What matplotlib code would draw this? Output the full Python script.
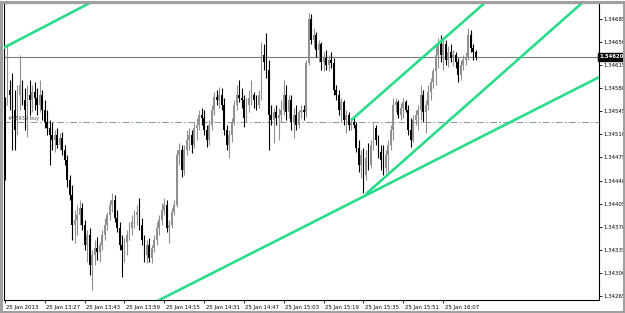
import numpy as np
import matplotlib
matplotlib.use("Agg")
import matplotlib.pyplot as plt
from matplotlib import transforms
from matplotlib.patches import Rectangle

# M1 bars, 25 Jan 2013, first bar 13:11
bar_open = [
    1.34479, 1.34555, 1.34570, 1.34563, 1.34540, 1.34509, 1.34563, 1.34578, 1.34555, 1.34540,
    1.34563, 1.34555, 1.34567, 1.34558, 1.34547, 1.34563, 1.34540, 1.34522, 1.34512, 1.34502,
    1.34494, 1.34502, 1.34487, 1.34497, 1.34479, 1.34464, 1.34433, 1.34411, 1.34365, 1.34373,
    1.34380, 1.34391, 1.34365, 1.34335, 1.34350, 1.34304, 1.34319, 1.34330, 1.34324, 1.34335,
    1.34350, 1.34365, 1.34380, 1.34395, 1.34403, 1.34376, 1.34360, 1.34335, 1.34327, 1.34339,
    1.34350, 1.34360, 1.34370, 1.34380, 1.34385, 1.34365, 1.34342, 1.34319, 1.34335, 1.34315,
    1.34330, 1.34342, 1.34360, 1.34373, 1.34388, 1.34395, 1.34360, 1.34365, 1.34385, 1.34395,
    1.34471, 1.34479, 1.34449, 1.34479, 1.34494, 1.34502, 1.34487, 1.34512, 1.34517, 1.34532,
    1.34528, 1.34509, 1.34494, 1.34517, 1.34540, 1.34560, 1.34555, 1.34563, 1.34547, 1.34509,
    1.34487, 1.34502, 1.34522, 1.34547, 1.34563, 1.34558, 1.34555, 1.34528, 1.34547, 1.34558,
    1.34563, 1.34555, 1.34547, 1.34563, 1.34623, 1.34613, 1.34601, 1.34532, 1.34525, 1.34537,
    1.34528, 1.34532, 1.34540, 1.34563, 1.34537, 1.34555, 1.34522, 1.34532, 1.34517, 1.34537,
    1.34540, 1.34537, 1.34611, 1.34677, 1.34646, 1.34654, 1.34631, 1.34639, 1.34613, 1.34619,
    1.34608, 1.34616, 1.34611, 1.34570, 1.34563, 1.34540, 1.34552, 1.34525, 1.34532, 1.34517,
    1.34522, 1.34517, 1.34482, 1.34456, 1.34471, 1.34441, 1.34467, 1.34456, 1.34487, 1.34512,
    1.34494, 1.34476, 1.34464, 1.34452, 1.34471, 1.34487, 1.34509, 1.34547, 1.34552, 1.34532,
    1.34543, 1.34552, 1.34540, 1.34509, 1.34494, 1.34525, 1.34532, 1.34540, 1.34563, 1.34537,
    1.34547, 1.34567, 1.34582, 1.34598, 1.34623, 1.34639, 1.34623, 1.34639, 1.34616, 1.34628,
    1.34619, 1.34623, 1.34613, 1.34593, 1.34608, 1.34616, 1.34619, 1.34654, 1.34634, 1.34628,
]
bar_high = [
    1.34560, 1.34639, 1.34585, 1.34596, 1.34570, 1.34578, 1.34623, 1.34585, 1.34573, 1.34578,
    1.34585, 1.34578, 1.34582, 1.34573, 1.34585, 1.34570, 1.34555, 1.34540, 1.34525, 1.34522,
    1.34509, 1.34512, 1.34505, 1.34506, 1.34487, 1.34471, 1.34441, 1.34426, 1.34388, 1.34395,
    1.34403, 1.34398, 1.34373, 1.34357, 1.34360, 1.34327, 1.34342, 1.34347, 1.34339, 1.34357,
    1.34376, 1.34385, 1.34403, 1.34414, 1.34411, 1.34388, 1.34370, 1.34350, 1.34345, 1.34357,
    1.34370, 1.34380, 1.34388, 1.34395, 1.34406, 1.34376, 1.34350, 1.34342, 1.34345, 1.34335,
    1.34350, 1.34370, 1.34380, 1.34398, 1.34406, 1.34403, 1.34373, 1.34391, 1.34403, 1.34479,
    1.34490, 1.34487, 1.34487, 1.34509, 1.34512, 1.34509, 1.34522, 1.34528, 1.34540, 1.34543,
    1.34540, 1.34517, 1.34525, 1.34547, 1.34567, 1.34570, 1.34575, 1.34573, 1.34558, 1.34517,
    1.34509, 1.34528, 1.34555, 1.34578, 1.34585, 1.34573, 1.34563, 1.34558, 1.34570, 1.34585,
    1.34567, 1.34563, 1.34570, 1.34643, 1.34639, 1.34657, 1.34616, 1.34547, 1.34543, 1.34547,
    1.34543, 1.34555, 1.34585, 1.34578, 1.34563, 1.34563, 1.34543, 1.34547, 1.34540, 1.34547,
    1.34547, 1.34616, 1.34687, 1.34686, 1.34664, 1.34658, 1.34646, 1.34643, 1.34628, 1.34631,
    1.34623, 1.34628, 1.34619, 1.34578, 1.34570, 1.34558, 1.34555, 1.34540, 1.34537, 1.34528,
    1.34528, 1.34522, 1.34494, 1.34479, 1.34482, 1.34479, 1.34490, 1.34494, 1.34520, 1.34517,
    1.34502, 1.34487, 1.34487, 1.34479, 1.34494, 1.34517, 1.34558, 1.34558, 1.34555, 1.34550,
    1.34558, 1.34555, 1.34547, 1.34528, 1.34532, 1.34540, 1.34547, 1.34578, 1.34570, 1.34555,
    1.34578, 1.34588, 1.34604, 1.34636, 1.34649, 1.34654, 1.34649, 1.34646, 1.34636, 1.34639,
    1.34631, 1.34628, 1.34619, 1.34616, 1.34623, 1.34628, 1.34664, 1.34661, 1.34639, 1.34631,
]
bar_low = [
    1.34433, 1.34547, 1.34540, 1.34479, 1.34479, 1.34502, 1.34540, 1.34547, 1.34509, 1.34499,
    1.34532, 1.34537, 1.34540, 1.34532, 1.34537, 1.34525, 1.34512, 1.34502, 1.34456, 1.34479,
    1.34476, 1.34482, 1.34479, 1.34471, 1.34456, 1.34423, 1.34403, 1.34342, 1.34338, 1.34350,
    1.34365, 1.34357, 1.34327, 1.34309, 1.34289, 1.34266, 1.34304, 1.34312, 1.34309, 1.34327,
    1.34342, 1.34357, 1.34373, 1.34385, 1.34370, 1.34354, 1.34327, 1.34286, 1.34309, 1.34319,
    1.34342, 1.34350, 1.34360, 1.34365, 1.34357, 1.34335, 1.34309, 1.34307, 1.34309, 1.34307,
    1.34324, 1.34335, 1.34350, 1.34365, 1.34380, 1.34354, 1.34338, 1.34360, 1.34380, 1.34392,
    1.34456, 1.34438, 1.34441, 1.34471, 1.34479, 1.34474, 1.34482, 1.34494, 1.34509, 1.34517,
    1.34502, 1.34484, 1.34487, 1.34509, 1.34532, 1.34547, 1.34543, 1.34540, 1.34502, 1.34479,
    1.34467, 1.34491, 1.34517, 1.34540, 1.34552, 1.34543, 1.34514, 1.34522, 1.34537, 1.34547,
    1.34543, 1.34540, 1.34543, 1.34555, 1.34601, 1.34588, 1.34479, 1.34517, 1.34490, 1.34517,
    1.34494, 1.34522, 1.34532, 1.34525, 1.34528, 1.34509, 1.34497, 1.34509, 1.34512, 1.34528,
    1.34525, 1.34529, 1.34608, 1.34639, 1.34634, 1.34620, 1.34613, 1.34601, 1.34598, 1.34601,
    1.34598, 1.34604, 1.34563, 1.34555, 1.34532, 1.34522, 1.34517, 1.34505, 1.34509, 1.34509,
    1.34512, 1.34476, 1.34446, 1.34436, 1.34414, 1.34433, 1.34449, 1.34452, 1.34479, 1.34487,
    1.34467, 1.34449, 1.34441, 1.34444, 1.34446, 1.34479, 1.34494, 1.34537, 1.34528, 1.34525,
    1.34528, 1.34537, 1.34502, 1.34484, 1.34491, 1.34517, 1.34509, 1.34525, 1.34522, 1.34505,
    1.34540, 1.34555, 1.34573, 1.34578, 1.34604, 1.34613, 1.34601, 1.34608, 1.34605, 1.34613,
    1.34607, 1.34604, 1.34582, 1.34585, 1.34601, 1.34608, 1.34616, 1.34628, 1.34616, 1.34616,
]
bar_close = [
    1.34456, 1.34570, 1.34563, 1.34525, 1.34509, 1.34563, 1.34578, 1.34555, 1.34540, 1.34563,
    1.34555, 1.34567, 1.34558, 1.34547, 1.34563, 1.34540, 1.34522, 1.34512, 1.34502, 1.34494,
    1.34502, 1.34487, 1.34497, 1.34479, 1.34464, 1.34433, 1.34411, 1.34365, 1.34373, 1.34380,
    1.34391, 1.34365, 1.34335, 1.34350, 1.34304, 1.34319, 1.34330, 1.34324, 1.34335, 1.34350,
    1.34365, 1.34380, 1.34395, 1.34403, 1.34376, 1.34360, 1.34335, 1.34327, 1.34339, 1.34350,
    1.34360, 1.34370, 1.34380, 1.34385, 1.34365, 1.34342, 1.34319, 1.34335, 1.34315, 1.34330,
    1.34342, 1.34360, 1.34373, 1.34388, 1.34395, 1.34360, 1.34365, 1.34385, 1.34395, 1.34471,
    1.34479, 1.34449, 1.34479, 1.34494, 1.34502, 1.34487, 1.34512, 1.34517, 1.34532, 1.34528,
    1.34509, 1.34494, 1.34517, 1.34540, 1.34560, 1.34555, 1.34563, 1.34547, 1.34509, 1.34487,
    1.34502, 1.34522, 1.34547, 1.34563, 1.34558, 1.34555, 1.34528, 1.34547, 1.34558, 1.34563,
    1.34555, 1.34547, 1.34563, 1.34623, 1.34613, 1.34601, 1.34532, 1.34525, 1.34537, 1.34528,
    1.34532, 1.34540, 1.34563, 1.34537, 1.34555, 1.34522, 1.34532, 1.34517, 1.34537, 1.34540,
    1.34537, 1.34611, 1.34677, 1.34646, 1.34654, 1.34631, 1.34639, 1.34613, 1.34619, 1.34608,
    1.34616, 1.34611, 1.34570, 1.34563, 1.34540, 1.34552, 1.34525, 1.34532, 1.34517, 1.34522,
    1.34517, 1.34482, 1.34456, 1.34471, 1.34441, 1.34467, 1.34456, 1.34487, 1.34512, 1.34494,
    1.34476, 1.34464, 1.34452, 1.34471, 1.34487, 1.34509, 1.34547, 1.34552, 1.34532, 1.34543,
    1.34552, 1.34540, 1.34509, 1.34494, 1.34525, 1.34532, 1.34540, 1.34563, 1.34537, 1.34547,
    1.34567, 1.34582, 1.34598, 1.34623, 1.34639, 1.34623, 1.34639, 1.34616, 1.34628, 1.34619,
    1.34623, 1.34613, 1.34593, 1.34608, 1.34616, 1.34619, 1.34654, 1.34634, 1.34628, 1.34620,
]

time_labels = ['25 Jan 2013', '25 Jan 13:27', '25 Jan 13:43', '25 Jan 13:59',
               '25 Jan 14:15', '25 Jan 14:31', '25 Jan 14:47', '25 Jan 15:03',
               '25 Jan 15:19', '25 Jan 15:35', '25 Jan 15:51', '25 Jan 16:07']
bars_per_label = 16

price_ticks = [1.34265, 1.34300, 1.34335, 1.34370, 1.34405, 1.34440, 1.34475,
               1.34510, 1.34545, 1.34580, 1.34615, 1.34650, 1.34685]
last_price = 1.34620
order_price = 1.34521
order_text = '#45939 buy'

# trend lines: (bar index, price) anchors
line_a = [(0, 1.34635), (30, 1.34694)]      # full line, top left
line_d = [(62, 1.34251), (145, 1.34410)]    # full line, long support
ray_b = [(139, 1.34524), (180, 1.34660)]    # channel top (ray)
ray_c = [(145, 1.34412), (180, 1.34529)]    # channel bottom (ray)

green = '#2adc8a'
bull_col = '#909090'
bear_col = '#000000'

fig = plt.figure(figsize=(6.25, 3.13), dpi=100)
ax = fig.add_axes([4/625, 13/313, 595/625, 297/313])

o = np.array(bar_open)
h = np.array(bar_high)
l = np.array(bar_low)
c = np.array(bar_close)
x = np.arange(len(c))
cols = np.where(c >= o, bull_col, bear_col)

ax.vlines(x, l, h, colors=cols, lw=0.8, zorder=3)
body = np.maximum(np.abs(c - o), 0.000012)
ax.bar(x, body, bottom=np.minimum(o, c), width=0.72, color=cols, linewidth=0, zorder=3)

# horizontal lines
ax.axhline(last_price, color='#7a7a7a', lw=0.8, zorder=2)
ax.axhline(order_price, color='#8595a5', lw=0.7, ls=(0, (7, 2.5, 1.5, 2.5)), zorder=2)
ax.text(1.2, order_price + 0.00002, order_text, fontsize=3.6, color='#505060',
        ha='left', va='bottom', zorder=4)

# trend lines
for ln in (line_a, line_d):
    ax.axline(ln[0], ln[1], color=green, lw=1.9, zorder=5)
for ry in (ray_b, ray_c):
    (x0, y0), (x1, y1) = ry
    slope = (y1 - y0) / (x1 - x0)
    ax.plot([x0, 250], [y0, y0 + slope * (250 - x0)], color=green, lw=1.9,
            solid_capstyle='butt', zorder=5)

ax.set_xlim(-0.4, 238.6)
ax.set_ylim(1.34251, 1.34702)

# price scale on the right
ax.yaxis.tick_right()
ax.set_yticks(price_ticks)
ax.set_yticklabels(['%.5f' % p for p in price_ticks])
ax.tick_params(axis='y', labelsize=3.9, length=2, width=0.6, pad=1, colors='black')
shift = transforms.ScaledTranslation(0, -5/100, fig.dpi_scale_trans)
for t in ax.yaxis.get_major_ticks():
    t.label2.set_transform(t.label2.get_transform() + shift)
    t.tick2line.set_transform(t.tick2line.get_transform() + shift)

# time scale
ax.set_xticks(np.arange(0, bars_per_label * len(time_labels), bars_per_label))
ax.set_xticklabels(time_labels)
ax.tick_params(axis='x', labelsize=3.9, length=2.5, width=0.6, pad=1)
xshift = transforms.ScaledTranslation(1.5/100, 0, fig.dpi_scale_trans)
for lab in ax.get_xticklabels():
    lab.set_ha('left')
    lab.set_transform(lab.get_transform() + xshift)

for s in ax.spines.values():
    s.set_color('black')
    s.set_linewidth(0.8)

# current price box
ax.text(1.0, last_price, '1.34620', transform=transforms.blended_transform_factory(ax.transAxes, ax.transData),
        fontsize=3.9, color='white', ha='left', va='center', fontweight='bold',
        bbox=dict(facecolor='black', edgecolor='black', pad=0.8), zorder=6)

# window frame
fig.add_artist(Rectangle((1.5/625, 1.5/313), 1 - 3/625, 1 - 3/313, transform=fig.transFigure,
                         fill=False, edgecolor='#a0a0a0', lw=2.2))

fig.savefig('out.png', dpi=100)
